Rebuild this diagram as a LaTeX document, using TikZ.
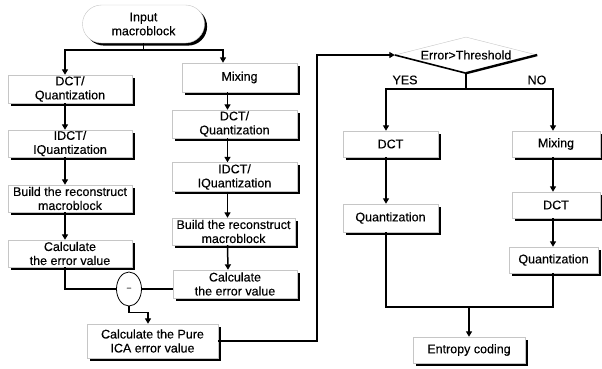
\documentclass[tikz,border=0pt]{standalone}
\usepackage{fontspec}
\setmainfont{Liberation Sans}[FakeBold=0.3]
\usetikzlibrary{shapes.geometric,shadows,arrows.meta}
\tikzset{
  box/.style={draw=gray!45, line width=0.4pt, fill=white, inner sep=0pt, align=center,
    font=\fontsize{12.5}{14}\selectfont,
    general shadow={fill=black, shadow xshift=2.6pt, shadow yshift=-2.6pt}},
  line/.style={line width=1.5pt, black},
  arr/.style={line width=1.5pt, black, -{Triangle[width=6pt,length=5.5pt]}},
  lbl/.style={font=\fontsize{12.5}{14}\selectfont, inner sep=0pt},
}
\begin{document}
\begin{tikzpicture}[x=1pt,y=-1pt]
\useasboundingbox (0,0) rectangle (602,368);
% left column
\node[box, rounded corners=19pt, minimum width=122pt, minimum height=38pt] (in) at (143.5,24) {Input\\macroblock};
\node[box, minimum width=124pt, minimum height=28pt] (l1) at (70,89) {DCT/\\Quantization};
\node[box, minimum width=124pt, minimum height=27pt] (l2) at (70,143.5) {IDCT/\\IQuantization};
\node[box, minimum width=124pt, minimum height=27pt] (l3) at (70,198.5) {Build the reconstruct\\macroblock};
\node[box, minimum width=124pt, minimum height=27pt] (l4) at (70,253.5) {Calculate\\the error value};
% right column
\node[box, minimum width=115pt, minimum height=29pt] (r1) at (239.5,77.5) {Mixing};
\node[box, minimum width=125pt, minimum height=28pt] (r2) at (234.5,124) {DCT/\\Quantization};
\node[box, minimum width=125pt, minimum height=29pt] (r3) at (234.5,177) {IDCT/\\IQuantization};
\node[box, minimum width=123pt, minimum height=27pt] (r4) at (233.5,231.5) {Build the reconstruct\\macroblock};
\node[box, minimum width=124pt, minimum height=28pt] (r5) at (235,284) {Calculate\\the error value};
% minus
\node[ellipse, draw=black, line width=0.8pt, fill=white, minimum width=25pt, minimum height=34pt, inner sep=0pt, font=\fontsize{8}{9}\selectfont] (m) at (129,289) {--};
\node[box, minimum width=131pt, minimum height=34pt] (p) at (152.5,341) {Calculate the Pure\\ICA error value};
% decision part
\node[diamond, aspect=4, draw=gray!45, line width=0.4pt, fill=white, minimum width=142pt, minimum height=36pt, inner sep=0pt, font=\fontsize{12.5}{14}\selectfont] (d) at (466,55) {Error>Threshold};
\draw[line width=1.6pt] (d.west) -- (d.south);
\draw[line width=2.4pt] (d.south) -- (d.east);
\node[box, minimum width=95pt, minimum height=26pt] (dct) at (390.5,144) {DCT};
\node[box, minimum width=88pt, minimum height=26pt] (mix) at (556,144) {Mixing};
\node[box, minimum width=95pt, minimum height=28pt] (ql) at (390.5,218) {Quantization};
\node[box, minimum width=88pt, minimum height=26pt] (dr) at (556,205) {DCT};
\node[box, minimum width=89pt, minimum height=26pt] (qr) at (553.5,260) {Quantization};
\node[box, minimum width=112pt, minimum height=26pt] (ent) at (469,350) {Entropy coding};
\node[lbl] (yes) at (405,80) {YES};
\node[lbl] (no) at (537,80) {NO};
% connectors left part
\draw[line] (in.south) -- ++(0,7) coordinate (bj);
\draw[arr] (bj) -| ([xshift=-5pt]l1.north);
\draw[arr] (bj) -| ([xshift=-16.5pt]r1.north);
\draw[arr] ([xshift=-5pt]l1.south) -- ([xshift=-5pt]l2.north);
\draw[arr] ([xshift=-5pt]l2.south) -- ([xshift=-5pt]l3.north);
\draw[arr] ([xshift=-5pt]l3.south) -- ([xshift=-5pt]l4.north);
\draw[arr] ([xshift=-12pt]r1.south) -- ([xshift=-7pt]r2.north);
\draw[arr] ([xshift=-7pt]r2.south) -- ([xshift=-7pt]r3.north);
\draw[arr] ([xshift=-7pt]r3.south) -- ([xshift=-6pt]r4.north);
\draw[arr] ([xshift=-6pt]r4.south) -- ([xshift=-7pt]r5.north);
\draw[line] ([xshift=-5pt]l4.south) |- (m.west);
\draw[line] (m.east) -- (m.east -| r5.west);
\draw[arr] (m.south) -- ++(0,6) -| ([xshift=-4.5pt]p.north);
\coordinate (c1) at (317,0);
\draw[arr] (p.east) -- (p.east -| c1) -- (c1 |- d.west) -- (d.west);
% connectors right part
\draw[line] (d.south) -- ++(0,16) coordinate (dj);
\draw[arr] (dj) -| ([xshift=-4.5pt]dct.north);
\draw[arr] (dj) -| ([xshift=-3pt]mix.north);
\draw[arr] ([xshift=-4.5pt]dct.south) -- ([xshift=-4.5pt]ql.north);
\draw[arr] ([xshift=-3pt]mix.south) -- ([xshift=-3pt]dr.north);
\draw[arr] ([xshift=-3pt]dr.south) -- ([xshift=-0.5pt]qr.north);
\coordinate (jn) at (469,307);
\draw[line] ([xshift=-4.5pt]ql.south) |- (jn) -| ([xshift=-0.5pt]qr.south);
\draw[arr] (jn) -- (ent.north);
\end{tikzpicture}
\end{document}
